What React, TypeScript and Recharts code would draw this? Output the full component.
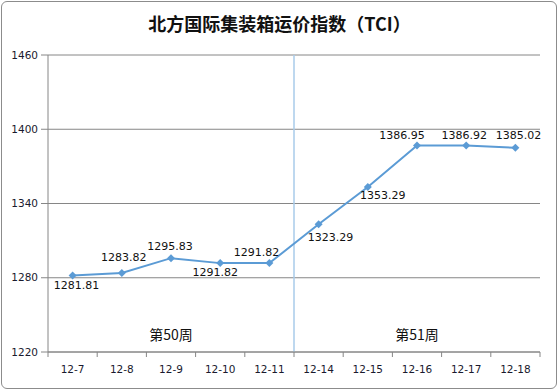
import React from 'react';
import { LineChart, Line, XAxis, YAxis, CartesianGrid, ReferenceLine, ReferenceArea } from 'recharts';

const categories = ['12-7', '12-8', '12-9', '12-10', '12-11', '12-14', '12-15', '12-16', '12-17', '12-18'];
const tciValues = [1281.81, 1283.82, 1295.83, 1291.82, 1291.82, 1323.29, 1353.29, 1386.95, 1386.92, 1385.02];
const yTicks = [1220, 1280, 1340, 1400, 1460];
const weekLabels = ['第50周', '第51周'];
const title = '北方国际集装箱运价指数（TCI）';

const data = categories.map((c, i) => ({ idx: i, name: c, value: tciValues[i] }));
const xTicks: number[] = [];
for (let i = -0.5; i <= categories.length - 0.5; i += 0.5) xTicks.push(i);

// label placement (text centre offsets from point)
const labelOffsets: [number, number][] = [
  [4, 10], [2, -16], [-1, -12], [-5, 9], [-13, -11],
  [12, 13], [15, 8], [-15, -10], [-2, -10], [3, -13],
];

const LINE = '#5B9BD5';
const GRID = '#868686';
const FONT = '"DejaVu Sans", Verdana, sans-serif';

const XTick = (props: any) => {
  const { x, y, payload } = props;
  const v = payload.value as number;
  if (Number.isInteger(v)) {
    return (
      <text x={x} y={y + 17} dy="0.35em" textAnchor="middle" fontSize={10.5} fontFamily={FONT} fill="#1a1a2e">
        {categories[v]}
      </text>
    );
  }
  return <line x1={x} x2={x} y1={y} y2={y + 5} stroke={GRID} strokeWidth={1} />;
};

const Dot = (props: any) => {
  const { cx, cy, index, value } = props;
  const [dx, dy] = labelOffsets[index] || [0, -12];
  const s = 4;
  return (
    <g key={`d${index}`}>
      <path d={`M${cx},${cy - s} L${cx + s},${cy} L${cx},${cy + s} L${cx - s},${cy} Z`} fill={LINE} />
      <text x={cx + dx} y={cy + dy} dy="0.35em" textAnchor="middle" fontSize={11} fontFamily={FONT} fill="#111">
        {Number(value).toFixed(2)}
      </text>
    </g>
  );
};

export default function App() {
  return (
    <div style={{ position: 'absolute', left: 0, top: 0, width: 559, height: 392, background: '#fff' }}>
      <div style={{ position: 'absolute', left: 1, top: 1, width: 554, height: 386, border: '1px solid #8c8c8c', borderRadius: 6 }} />
      <div style={{ position: 'absolute', left: 0, width: 559, textAlign: 'center', top: 10, fontFamily: '"Noto Sans CJK SC", sans-serif', fontWeight: 'bold', fontSize: 18, color: '#111' }}>
        {title}
      </div>
      <div style={{ position: 'absolute', left: 0, top: 0 }}>
        <LineChart width={559} height={392} data={data} margin={{ top: 55, right: 19, bottom: 10, left: 0 }}>
          <CartesianGrid vertical={false} stroke={GRID} strokeWidth={1} />
          <XAxis
            dataKey="idx"
            type="number"
            domain={[-0.5, categories.length - 0.5]}
            ticks={xTicks}
            interval={0}
            tick={<XTick />}
            tickLine={false}
            tickSize={0}
            tickMargin={0}
            height={30}
            axisLine={{ stroke: GRID }}
          />
          <YAxis
            domain={[1220, 1460]}
            ticks={yTicks}
            interval={0}
            width={48}
            tickSize={7}
            tickMargin={3}
            axisLine={{ stroke: GRID }}
            tickLine={{ stroke: GRID }}
            tick={{ fontSize: 10.5, fontFamily: FONT, fill: '#1a1a2e' }}
          />
          <ReferenceArea
            x1={-0.5}
            x2={4.5}
            fill="none"
            fillOpacity={0}
            stroke="none"
            label={{ value: weekLabels[0], position: 'insideBottom', offset: 12, fontSize: 14, fill: '#111', fontFamily: '"Noto Sans CJK SC", sans-serif' }}
          />
          <ReferenceArea
            x1={4.5}
            x2={9.5}
            fill="none"
            fillOpacity={0}
            stroke="none"
            label={{ value: weekLabels[1], position: 'insideBottom', offset: 12, fontSize: 14, fill: '#111', fontFamily: '"Noto Sans CJK SC", sans-serif' }}
          />
          <ReferenceLine x={4.5} stroke="#A9CBEA" strokeWidth={1.5} />
          <Line
            type="linear"
            dataKey="value"
            stroke={LINE}
            strokeWidth={2}
            dot={<Dot />}
            activeDot={false}
            isAnimationActive={false}
          />
        </LineChart>
      </div>
    </div>
  );
}
